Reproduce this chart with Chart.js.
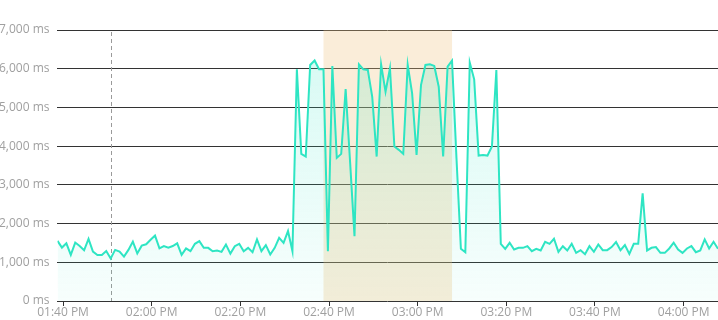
<!DOCTYPE html>
<html><head><meta charset="utf-8">
<script src="https://cdn.jsdelivr.net/npm/chart.js@4"></script>
<style>
html,body{margin:0;padding:0;background:#fff;overflow:hidden;width:718px;height:320px}
#wrap{position:absolute;left:-9px;top:0;width:727px;height:320px}
</style>
</head><body><div id="wrap"><canvas id="c"></canvas></div>
<script>
// ---- data ----
const startTime = '13:38:45';   // time of first sample
const stepMinutes = 1;          // sample interval
const latencyMs = [
 1553,1380,1490,1190,1510,1420,1310,1605,1275,1190,
 1190,1290,1100,1320,1275,1145,1320,1535,1230,1430,
 1465,1580,1690,1360,1420,1380,1420,1490,1190,1360,
 1286,1477,1546,1373,1373,1286,1303,1269,1460,1225,
 1416,1477,1286,1373,1260,1590,1286,1442,1200,1373,
 1633,1503,1806,1286,5985,3800,3731,6098,6211,5985,
 5985,1286,6072,3696,3800,5474,3600,1676,6115,5985,
 5968,5274,3731,6115,5404,6011,3991,3904,3800,6098,
 5361,3774,5578,6098,6115,6072,5534,3731,6055,6211,
 3700,1347,1260,6159,5725,3757,3774,3757,3991,5968,
 1477,1347,1503,1329,1373,1373,1416,1286,1347,1303,
 1529,1477,1607,1269,1416,1303,1477,1243,1312,1210,
 1417,1270,1461,1313,1313,1392,1522,1313,1444,1218,
 1479,1479,2784,1305,1374,1392,1244,1244,1357,1505,
 1331,1244,1357,1418,1261,1305,1592,1357,1531,1348
];
const xTickTimes  = ['13:40','14:00','14:20','14:40','15:00','15:20','15:40','16:00'];
const xTickLabels = ['01:40 PM','02:00 PM','02:20 PM','02:40 PM','03:00 PM','03:20 PM','03:40 PM','04:00 PM'];
const yMax = 7000, yStep = 1000;
const highlightStart = '14:38:45', highlightEnd = '15:07:45';
const markerTime = '13:50:45';

// ---- helpers ----
function toMin(t){const p=t.split(':').map(Number);return p[0]*60+p[1]+(p[2]||0)/60;}
const t0 = toMin(startTime);
const points = latencyMs.map((v,i)=>({x:t0+i*stepMinutes,y:v}));
const tickVals = xTickTimes.map(toMin);

const overlay = {
  id:'overlay',
  beforeDatasetsDraw(chart){
    const {ctx,chartArea:a,scales:{x}} = chart;
    ctx.save();
    const x1=x.getPixelForValue(toMin(highlightStart)), x2=x.getPixelForValue(toMin(highlightEnd));
    ctx.fillStyle='rgba(238,196,128,0.3)';
    ctx.fillRect(x1,a.top,x2-x1,a.bottom-a.top);
    const xm=Math.round(x.getPixelForValue(toMin(markerTime)))+0.5;
    ctx.strokeStyle='#9a9a9a';ctx.lineWidth=1;ctx.setLineDash([4,3]);
    ctx.beginPath();ctx.moveTo(xm,a.top+2);ctx.lineTo(xm,a.bottom);ctx.stroke();
    ctx.restore();
  }
};

new Chart(document.getElementById('c'),{
  type:'line',
  data:{datasets:[{
    data:points,
    borderColor:'#2ee5c3',
    borderWidth:2,
    pointRadius:0,
    tension:0,
    fill:'origin',
    backgroundColor(ctx){
      const a=ctx.chart.chartArea; if(!a) return 'rgba(46,229,195,0.1)';
      const g=ctx.chart.ctx.createLinearGradient(0,a.top,0,a.bottom);
      g.addColorStop(0,'rgba(46,229,195,0.2)');
      g.addColorStop(1,'rgba(46,229,195,0.04)');
      return g;
    }
  }]},
  options:{
    responsive:true,maintainAspectRatio:false,animation:false,
    layout:{padding:{top:30,right:0,left:0,bottom:0}},
    plugins:{legend:{display:false},tooltip:{enabled:false}},
    scales:{
      x:{type:'linear',min:t0,max:t0+(latencyMs.length-1)*stepMinutes,
        afterBuildTicks(s){s.ticks=tickVals.map(v=>({value:v}));},
        grid:{display:true,drawOnChartArea:false,drawTicks:true,tickLength:5,color:'#333'},
        border:{display:false},
        ticks:{autoSkip:false,maxRotation:0,padding:1,color:'#a0a0a0',
          font:{family:'Open Sans',size:12,lineHeight:1},
          callback:(v)=>{const k=tickVals.indexOf(v);return k>=0?xTickLabels[k]:'';}}
      },
      y:{min:0,max:yMax,
        ticks:{stepSize:yStep,padding:8,color:'#a0a0a0',font:{family:'Open Sans',size:12},
          callback:v=>v.toLocaleString('en-US')+' ms'},
        grid:{color:'#333',drawTicks:false},
        border:{display:false}
      }
    }
  },
  plugins:[overlay]
});
</script></body></html>
